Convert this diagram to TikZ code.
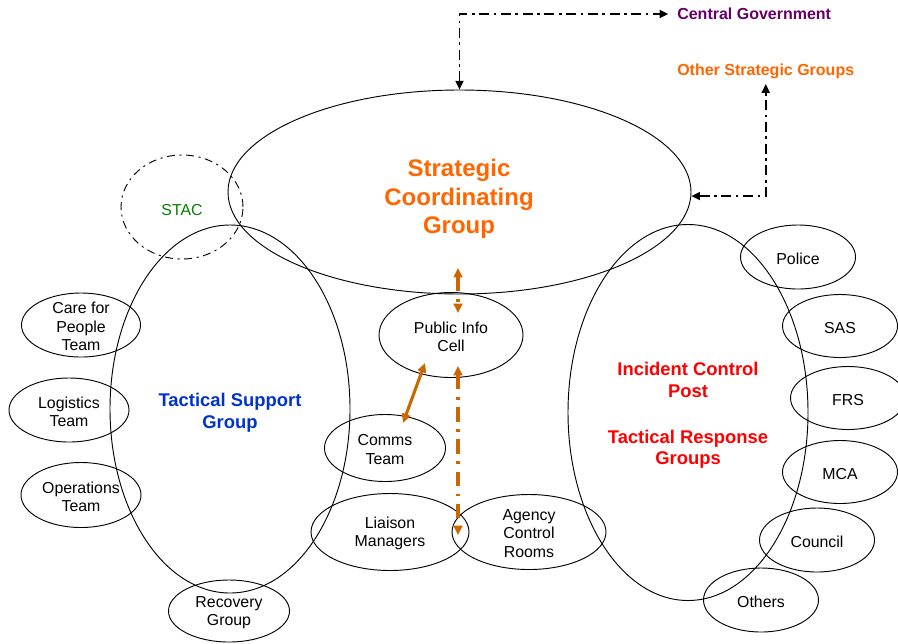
\documentclass[tikz,border=0pt]{standalone}
\usepackage{fontspec}
\setmainfont{Liberation Sans}
\usetikzlibrary{shapes.geometric,arrows.meta}

\definecolor{sgorange}{RGB}{255,102,0}
\definecolor{linkorange}{RGB}{204,102,0}
\definecolor{tsgblue}{RGB}{0,51,204}
\definecolor{icpred}{RGB}{255,0,0}
\definecolor{govpurple}{RGB}{102,0,102}
\definecolor{stacgreen}{RGB}{0,128,0}

\begin{document}
\begin{tikzpicture}[x=0.75pt,y=-0.75pt,
  oval/.style 2 args={draw, ellipse, inner sep=0pt, line width=0.7pt,
    minimum width=#1*0.75pt, minimum height=#2*0.75pt},
  lbl/.style={font=\fontsize{11.9}{13.9}\selectfont, align=center, inner sep=0pt, yshift=-1.2pt},
  head/.style={font=\bfseries\fontsize{13.8}{16.2}\selectfont, align=center, inner sep=0pt},
  ext/.style={font=\bfseries\fontsize{12}{13}\selectfont, anchor=west, inner sep=0pt},
  dashdot/.style={dash pattern=on 7.5pt off 3.4pt on 2pt off 3.4pt},
  widedashdot/.style={dash pattern=on 11pt off 5.5pt on 2.2pt off 5.5pt},
  blacklink/.style={dashdot, line width=1.3pt, {Triangle[length=6.5pt,width=6pt]}-{Triangle[length=6.5pt,width=6pt]}},
  orangelink/.style={linkorange, line width=2.3pt, {Triangle[length=7pt,width=6.5pt]}-{Triangle[length=7pt,width=6.5pt]}}
]
\useasboundingbox (0,0) rectangle (898,643);

% large groupings
\node[oval={463}{204}] (scg) at (459.5,192) {};
\node[oval={122}{104}, dash pattern=on 6pt off 3.4pt on 1.6pt off 3.4pt] (stac) at (182,207) {};
\node[oval={240}{368}] (tsg) at (230,409) {};
\node[oval={240}{376}] (icp) at (688,412.5) {};

% central cells
\node[oval={144}{85}, label={[lbl]center:{Public Info\\Cell}}] (pic) at (451,335) {};
\node[oval={121}{67}, label={[lbl]center:{Comms\\Team}}] (comms) at (385,448) {};
\node[oval={158}{77}, label={[lbl]center:{Liaison\\Managers}}] (liaison) at (390,532) {};
\node[oval={154}{75}, label={[lbl]center:{Agency\\Control\\Rooms}}] (agency) at (529,532) {};

% support teams
\node[oval={119}{64}, label={[lbl]center:{Care for\\People\\Team}}] (care) at (81,325) {};
\node[oval={120}{64}, label={[lbl]center:{Logistics\\Team}}] (logistics) at (69,410) {};
\node[oval={120}{65}, label={[lbl]center:{Operations\\Team}}] (operations) at (81,495) {};
\node[oval={121}{62}, label={[lbl]center:{Recovery\\Group}}] (recovery) at (229,611) {};

% response agencies
\node[oval={115}{64}, label={[lbl]center:{Police}}] (police) at (798,257) {};
\node[oval={115}{63}, label={[lbl]center:{SAS}}] (sas) at (840,326) {};
\node[oval={115}{63}, label={[lbl]center:{FRS}}] (frs) at (848,398) {};
\node[oval={115}{63}, label={[lbl]center:{MCA}}] (mca) at (840,472) {};
\node[oval={115}{64}, label={[lbl]center:{Council}}] (council) at (817,540) {};
\node[oval={115}{64}, label={[lbl]center:{Others}}] (others) at (761,600) {};

% group titles
\node[font=\bfseries\fontsize{18}{21.4}\selectfont, align=center, text=sgorange, inner sep=0pt] (scgtitle) at (459,199) {Strategic\\Coordinating\\Group};
\node[lbl, text=stacgreen] (stactitle) at (182,208) {STAC};
\node[head, text=tsgblue] (tsgtitle) at (230,413) {Tactical Support\\Group};
\node[head, text=icpred] (icptitle) at (688,415.5) {Incident Control\\Post\\[18pt]Tactical Response\\Groups};

% external bodies
\node[ext, text=govpurple] (cg) at (677,14) {Central Government};
\node[ext, text=sgorange] (osg) at (677,71) {Other Strategic Groups};

% links to the outside
\draw[blacklink] (scg.north) |- ([xshift=-6.5pt]cg.west);
\draw[blacklink] (scg.-1.2) -| ([yshift=-4pt]osg.south);

% information flows
\coordinate (sgup) at (458,268);
\coordinate (picin) at (458,313);
\coordinate (picout) at (458,366);
\coordinate (acrin) at (458,535);
\coordinate (commsin) at (403,423);
\coordinate (picside) at (425,363);
\draw[orangelink, widedashdot] (sgup) -- (picin);
\draw[orangelink, widedashdot] (picout) -- (acrin);
\draw[orangelink] (commsin) -- (picside);
\end{tikzpicture}
\end{document}
